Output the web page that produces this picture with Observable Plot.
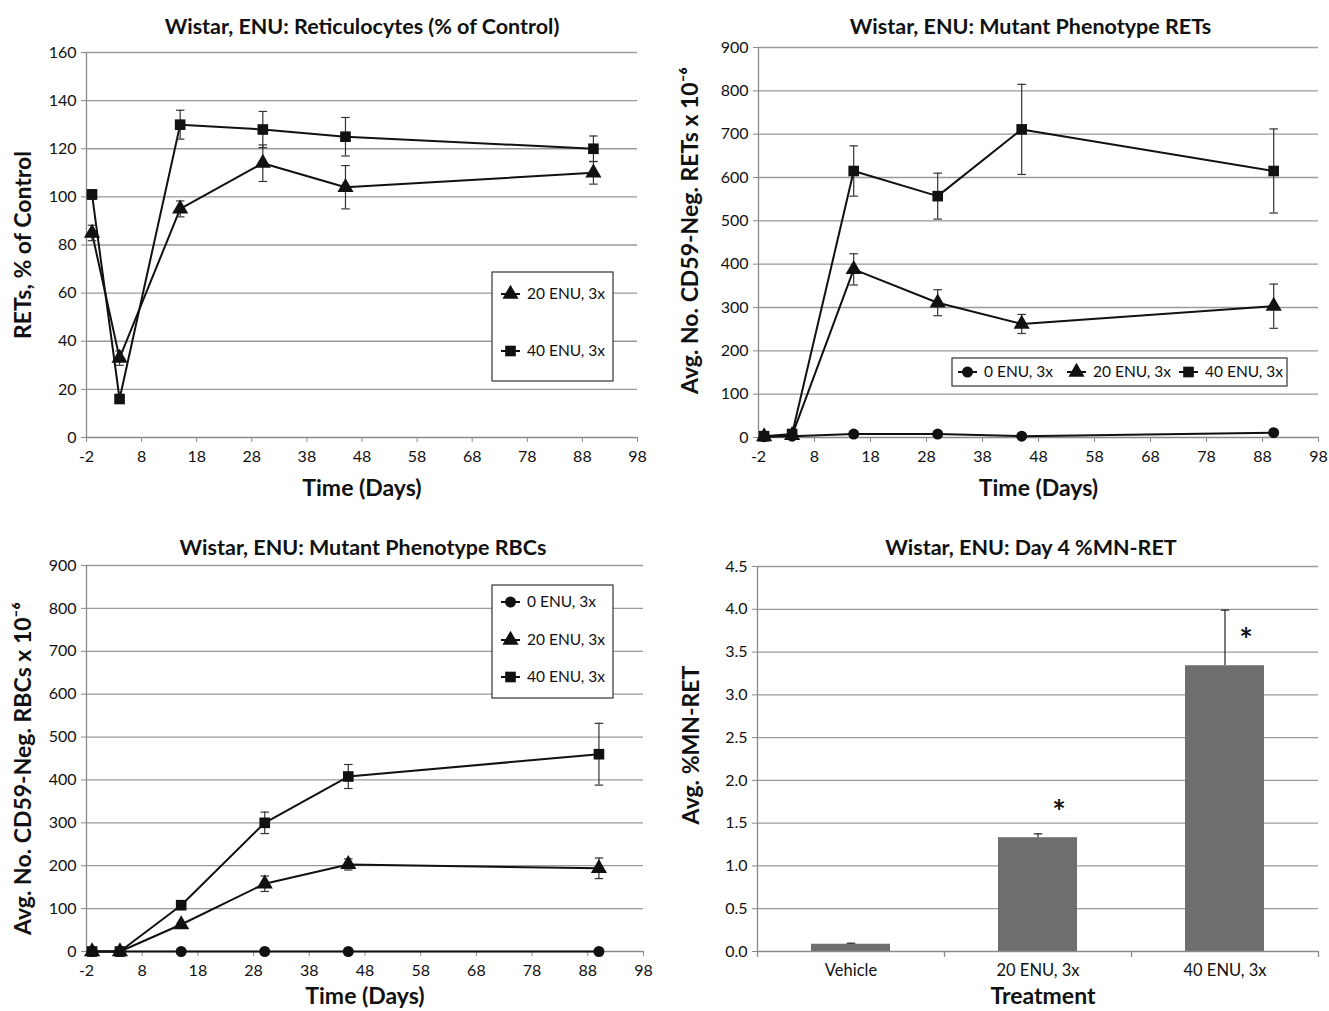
<!DOCTYPE html>
<html><head><meta charset="utf-8">
<script src="https://cdn.jsdelivr.net/npm/d3@7"></script>
<script src="https://cdn.jsdelivr.net/npm/@observablehq/plot@0.6"></script>
<style>
body{margin:0;background:#fff;}
#root{position:relative;width:1329px;height:1011px;overflow:hidden;font-family:Lato,"Open Sans",sans-serif;}
#root svg{position:absolute;overflow:visible;}
</style></head><body><div id="root"></div>
<script>
// ---------- data ----------
const days = [-1, 4, 15, 30, 45, 90];
const xTicks = [-2, 8, 18, 28, 38, 48, 58, 68, 78, 88, 98];
const seriesNames = ["0 ENU, 3x", "20 ENU, 3x", "40 ENU, 3x"];
const symbols = ["circle", "triangle", "square"];

// Panel 1: Reticulocytes (% of Control)
const ret20 = [85, 33, 95, 114, 104, 110];
const ret20Err = [3.2, 3, 3.3, 7.6, 9, 4.7];
const ret40 = [101, 16, 130, 128, 125, 120];
const ret40Err = [2, 1.5, 6, 7.5, 8, 5.3];
const retTicks = [0, 20, 40, 60, 80, 100, 120, 140, 160];

// Panel 2: Mutant phenotype RETs
const mret0 = [2, 3, 8, 8, 3, 11];
const mret0Err = [0, 0, 0, 0, 0, 0];
const mret20 = [2, 5, 388, 311, 262, 303];
const mret20Err = [1, 2, 36, 30, 22, 51];
const mret40 = [3, 8, 615, 557, 711, 615];
const mret40Err = [1, 3, 58, 53, 104, 97];
const mutTicks = [0, 100, 200, 300, 400, 500, 600, 700, 800, 900];

// Panel 3: Mutant phenotype RBCs
const rbc0 = [0, 0, 0, 0, 0, 0];
const rbc0Err = [0, 0, 0, 0, 0, 0];
const rbc20 = [0, 0, 63, 158, 203, 194];
const rbc20Err = [0, 0, 5, 18, 13, 24];
const rbc40 = [0, 0, 108, 300, 408, 460];
const rbc40Err = [0, 0, 10, 25, 28, 72];

// Panel 4: Day 4 %MN-RET
const treatments = ["Vehicle", "20 ENU, 3x", "40 ENU, 3x"];
const mnRet = [0.085, 1.33, 3.34];
const mnRetErr = [0.012, 0.045, 0.65];
const mnSig = [false, true, true];
const mnTicks = [0, 0.5, 1, 1.5, 2, 2.5, 3, 3.5, 4, 4.5];

// ---------- helpers ----------
const root = document.getElementById("root");
const FONT = "Lato, 'Open Sans', sans-serif";
const GRID = "#9a9a9a";
const AXIS = "#8a8a8a";
const TICK_FS = 16, TITLE_FS = 21.5, AXT_FS = 23;
const capSymbol = {draw(ctx, size) { const w = Math.sqrt(size); ctx.moveTo(-w, 0); ctx.lineTo(w, 0); }};

function rows(vals, errs, series) {
  return days.map((d, i) => ({day: d, v: vals[i], e: errs[i], s: series}));
}

function place(svg, left, top) {
  svg.style.left = left + "px";
  svg.style.top = top + "px";
  root.appendChild(svg);
}

function linePanel({series, yMax, yTicks, width, height, mL, mR, mT, mB, title, titleDx, titleDy, yLabel, yDx, yDy, xLabelDy}) {
  const all = series.flatMap(s => s.data);
  const withErr = all.filter(d => d.e > 0);
  const marks = [
    Plot.gridY(yTicks.filter(v => v > 0), {stroke: GRID, strokeOpacity: 1, strokeWidth: 1.3}),
    Plot.ruleY([0], {stroke: AXIS, strokeWidth: 1.3}),
    Plot.ruleX([-2], {stroke: AXIS, strokeWidth: 1.3}),
    Plot.axisX(xTicks, {tickSize: 5, tickPadding: 8, fontSize: TICK_FS, stroke: AXIS, fill: "#111", tickFormat: d => String(d), label: null}),
    Plot.axisY(yTicks, {tickSize: 5, tickPadding: 5, fontSize: TICK_FS, stroke: AXIS, fill: "#111", tickFormat: d => String(d), label: null}),
    Plot.line(all, {x: "day", y: "v", z: "s", stroke: "#111", strokeWidth: 2}),
    Plot.ruleX(withErr, {x: "day", y1: d => d.v - d.e, y2: d => d.v + d.e, stroke: "#333", strokeWidth: 1.2}),
    Plot.dot(withErr, {x: "day", y: d => d.v + d.e, symbol: capSymbol, r: 2.4, fill: "none", stroke: "#333", strokeWidth: 1.2}),
    Plot.dot(withErr, {x: "day", y: d => d.v - d.e, symbol: capSymbol, r: 2.4, fill: "none", stroke: "#333", strokeWidth: 1.2}),
    ...series.map(s => Plot.dot(s.data, {x: "day", y: "v", symbol: s.symbol, r: s.symbol === "circle" ? 5.5 : 6, fill: "#111", stroke: "none"})),
    Plot.text([title], {frameAnchor: "top", lineAnchor: "middle", dx: titleDx, dy: titleDy, fontSize: TITLE_FS, fontWeight: "bold", fill: "#111"}),
    Plot.text([yLabel], {frameAnchor: "left", textAnchor: "middle", lineAnchor: "middle", rotate: -90, dx: yDx, dy: yDy, fontSize: AXT_FS, fontWeight: "bold", fill: "#111"}),
    Plot.text(["Time (Days)"], {frameAnchor: "bottom", lineAnchor: "middle", dy: xLabelDy, fontSize: AXT_FS, fontWeight: "bold", fill: "#111"})
  ];
  return Plot.plot({
    width, height, marginLeft: mL, marginRight: mR, marginTop: mT, marginBottom: mB,
    style: {fontFamily: FONT, fontSize: "16px", color: "#111", background: "transparent"},
    x: {domain: [-2, 98], axis: null},
    y: {domain: [0, yMax], axis: null},
    marks
  });
}

// ---------- panel 1 ----------
place(linePanel({
  series: [
    {data: rows(ret20, ret20Err, "20"), symbol: "triangle"},
    {data: rows(ret40, ret40Err, "40"), symbol: "square"}
  ],
  yMax: 160, yTicks: retTicks,
  width: 665, height: 510, mL: 86, mR: 28, mT: 52, mB: 73,
  title: "Wistar, ENU: Reticulocytes (% of Control)", titleDx: 0, titleDy: -25,
  yLabel: "RETs, % of Control", yDx: -63, yDy: 0, xLabelDy: 51
}), 0, 0);

// ---------- panel 2 ----------
place(linePanel({
  series: [
    {data: rows(mret0, mret0Err, "0"), symbol: "circle"},
    {data: rows(mret20, mret20Err, "20"), symbol: "triangle"},
    {data: rows(mret40, mret40Err, "40"), symbol: "square"}
  ],
  yMax: 900, yTicks: mutTicks,
  width: 664, height: 510, mL: 93, mR: 11, mT: 47, mB: 73,
  title: "Wistar, ENU: Mutant Phenotype RETs", titleDx: -8, titleDy: -20,
  yLabel: "Avg. No. CD59-Neg. RETs x 10⁻⁶", yDx: -68, yDy: -12, xLabelDy: 51
}), 665, 0);

// ---------- panel 3 ----------
place(linePanel({
  series: [
    {data: rows(rbc0, rbc0Err, "0"), symbol: "circle"},
    {data: rows(rbc20, rbc20Err, "20"), symbol: "triangle"},
    {data: rows(rbc40, rbc40Err, "40"), symbol: "square"}
  ],
  yMax: 900, yTicks: mutTicks,
  width: 665, height: 501, mL: 86, mR: 22, mT: 55, mB: 60,
  title: "Wistar, ENU: Mutant Phenotype RBCs", titleDx: -2, titleDy: -17,
  yLabel: "Avg. No. CD59-Neg. RBCs x 10⁻⁶", yDx: -63, yDy: 10, xLabelDy: 45
}), 0, 510);

// ---------- panel 4 ----------
const barData = treatments.map((t, i) => ({cat: t, v: mnRet[i], e: mnRetErr[i], sig: mnSig[i]}));
const p4 = {width: 664, height: 501, mL: 92, mR: 11, mT: 56, mB: 60};
const step = (p4.width - p4.mL - p4.mR) / treatments.length;
const frameH = p4.height - p4.mT - p4.mB;
place(Plot.plot({
  width: p4.width, height: p4.height, marginLeft: p4.mL, marginRight: p4.mR, marginTop: p4.mT, marginBottom: p4.mB,
  style: {fontFamily: FONT, fontSize: "16px", color: "#111", background: "transparent"},
  x: {type: "band", domain: treatments, paddingInner: 0.58, paddingOuter: 0.29, axis: null},
  y: {domain: [0, 4.5], axis: null},
  marks: [
    Plot.gridY(mnTicks.filter(v => v > 0), {stroke: GRID, strokeOpacity: 1, strokeWidth: 1.3}),
    Plot.barY(barData, {x: "cat", y: "v", fill: "#6e6e6e"}),
    Plot.ruleX(barData, {x: "cat", y1: "v", y2: d => d.v + d.e, stroke: "#222", strokeWidth: 1.2}),
    Plot.dot(barData, {x: "cat", y: d => d.v + d.e, symbol: capSymbol, r: 2.4, fill: "none", stroke: "#222", strokeWidth: 1.2}),
    Plot.text(barData.filter(d => d.sig), {x: "cat", y: "v", text: () => "*", dx: 21, dy: -24, fontSize: 32, fontWeight: "bold", fill: "#111"}),
    Plot.ruleY([0], {stroke: AXIS, strokeWidth: 1.3}),
    Plot.ruleX(treatments, {x: d => d, dx: -step / 2, insetTop: frameH, insetBottom: -6, stroke: AXIS, strokeWidth: 1.3}),
    Plot.ruleX([treatments[treatments.length - 1]], {x: d => d, dx: step / 2, insetTop: frameH, insetBottom: -6, stroke: AXIS, strokeWidth: 1.3}),
    Plot.ruleX([treatments[0]], {x: d => d, dx: -step / 2, stroke: AXIS, strokeWidth: 1.3}),
    Plot.axisX({tickSize: 0, tickPadding: 13, fontSize: 16.5, fill: "#111", label: null}),
    Plot.axisY(mnTicks, {tickSize: 5, tickPadding: 5, fontSize: TICK_FS, stroke: AXIS, fill: "#111", tickFormat: d3.format(".1f"), label: null}),
    Plot.text(["Wistar, ENU: Day 4 %MN-RET"], {frameAnchor: "top", lineAnchor: "middle", dx: -7, dy: -18, fontSize: TITLE_FS, fontWeight: "bold", fill: "#111"}),
    Plot.text(["Avg. %MN-RET"], {frameAnchor: "left", textAnchor: "middle", lineAnchor: "middle", rotate: -90, dx: -66, dy: -14, fontSize: AXT_FS, fontWeight: "bold", fill: "#111"}),
    Plot.text(["Treatment"], {frameAnchor: "bottom", lineAnchor: "middle", dx: 5, dy: 45, fontSize: AXT_FS, fontWeight: "bold", fill: "#111"})
  ]
}), 665, 510);

// ---------- legends ----------
const leg = d3.select(root).append("svg")
  .attr("width", 1329).attr("height", 1011)
  .style("left", "0px").style("top", "0px");

function drawEntry(g, x, y, si) {
  g.append("line").attr("x1", x).attr("x2", x + 19).attr("y1", y).attr("y2", y)
    .attr("stroke", "#111").attr("stroke-width", 2);
  const sym = {circle: d3.symbolCircle, triangle: d3.symbolTriangle, square: d3.symbolSquare}[symbols[si]];
  const size = symbols[si] === "circle" ? Math.PI * 5.5 * 5.5 : Math.PI * 36;
  g.append("path").attr("d", d3.symbol(sym, size)()).attr("transform", `translate(${x + 9.5},${y})`).attr("fill", "#111");
  g.append("text").attr("x", x + 26).attr("y", y).attr("dy", "0.35em")
    .attr("font-size", 15.5).attr("font-family", FONT).attr("fill", "#111")
    .text(seriesNames[si]);
}
function box(x, y, w, h) {
  leg.append("rect").attr("x", x).attr("y", y).attr("width", w).attr("height", h)
    .attr("fill", "#fff").attr("stroke", "#333").attr("stroke-width", 1.2);
}
// panel 1 legend (vertical)
box(492, 272, 121, 109);
drawEntry(leg, 501, 294, 1);
drawEntry(leg, 501, 351, 2);
// panel 2 legend (horizontal)
box(952, 358, 335, 28);
drawEntry(leg, 958, 372, 0);
drawEntry(leg, 1067, 372, 1);
drawEntry(leg, 1179, 372, 2);
// panel 3 legend (vertical)
box(492, 585, 121, 113);
drawEntry(leg, 501, 602, 0);
drawEntry(leg, 501, 640, 1);
drawEntry(leg, 501, 677, 2);
</script></body></html>
